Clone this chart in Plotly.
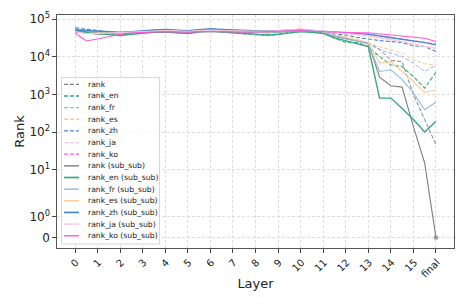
import numpy as np
import plotly.graph_objects as go

# ---------------- data ----------------
x_steps = [i * 0.5 for i in range(33)]          # 0, 0.5, ..., 15.5, 16 (final)
tick_pos = list(range(17))
tick_labels = [str(i) for i in range(16)] + ["final"]

rank = [52000, 50000, 47000, 44000, 42000, 44000, 46000, 47000, 48000, 47000, 46000, 48000, 50000, 49000, 47000, 46000,
        45000, 44000, 46000, 48000, 49000, 47000, 45000, 36000, 31000, 27000, 23000, 16000, 8000, 7500, 1000, 215, 46]
rank_en = [50000, 46000, 42000, 40000, 38000, 41000, 44000, 45000, 46000, 44000, 43000, 47000, 49000, 46000, 44000, 42000,
           40000, 37000, 39000, 44000, 47000, 46000, 43000, 31300, 24000, 24000, 18800, 10200, 6100, 5500, 3000, 1480, 3850]
rank_fr = [62000, 57000, 50000, 45000, 42000, 44000, 47000, 49000, 50000, 48000, 47000, 50000, 52000, 50000, 48000, 47000,
           46000, 45000, 47000, 49000, 51000, 49000, 46000, 38000, 31000, 27000, 23000, 15300, 12500, 10200, 6800, 4080, 5900]
rank_es = [55000, 52000, 48000, 45000, 43000, 45000, 48000, 50000, 51000, 49000, 48000, 51000, 53000, 51000, 50000, 49000,
           48000, 47000, 49000, 52000, 54000, 50000, 47000, 40000, 34000, 29000, 23000, 18800, 15300, 12500, 8300, 6500, 6100]
rank_zh = [57000, 54000, 50000, 46000, 44000, 46000, 49000, 51000, 52000, 50000, 49000, 52000, 55000, 53000, 51000, 50000,
           49000, 47000, 49000, 51000, 52000, 49000, 46000, 41000, 38300, 33000, 29500, 27000, 25500, 24000, 19600, 18800, 13800]
rank_ja = [48000, 45000, 43000, 44000, 45000, 47000, 48000, 49000, 50000, 49000, 48000, 50000, 51000, 50000, 49000, 48000,
           47000, 48000, 50000, 53000, 55000, 52000, 49000, 45000, 42000, 38000, 35000, 31000, 28000, 26000, 22000, 19000, 16000]
rank_ko = [46000, 42000, 40000, 41000, 43000, 45000, 47000, 48000, 49000, 48000, 47000, 49000, 50000, 49000, 48000, 47000,
           46000, 45000, 47000, 49000, 50000, 49000, 48000, 46000, 44000, 41000, 39000, 36000, 33000, 30000, 27000, 25000, 22000]

rank_ss = [50000, 47000, 45000, 44000, 43000, 45000, 47000, 48000, 49000, 47000, 46000, 48000, 50000, 48000, 47000, 46000,
           45000, 44000, 46000, 48000, 49000, 46000, 44000, 35000, 30000, 26000, 23100, 2900, 1700, 1570, 140, 15, 0]
rank_en_ss = [48000, 44000, 41000, 39000, 37000, 40000, 43000, 45000, 46000, 44000, 42000, 46000, 48000, 46000, 44000, 42000,
              40000, 38000, 40000, 44000, 47000, 45000, 42000, 32000, 27000, 23000, 18800, 800, 800, 420, 214, 100, 192]
rank_fr_ss = [56000, 50000, 46000, 44000, 42000, 44000, 47000, 49000, 50000, 48000, 46000, 49000, 52000, 50000, 48000, 46000,
              45000, 44000, 46000, 49000, 50000, 48000, 45000, 36000, 30000, 26000, 22000, 4080, 4530, 2480, 1100, 390, 620]
rank_es_ss = [53000, 49000, 46000, 45000, 44000, 46000, 49000, 51000, 52000, 50000, 48000, 51000, 53000, 51000, 49000, 48000,
              47000, 46000, 48000, 51000, 53000, 50000, 47000, 40000, 33000, 28000, 24000, 6800, 7500, 4080, 2200, 1130, 1340]
rank_zh_ss = [52000, 50000, 48000, 46000, 45000, 47000, 50000, 52000, 54000, 52000, 50000, 53000, 56000, 54000, 52000, 50000,
              49000, 48000, 50000, 52000, 53000, 50000, 48000, 45000, 44000, 42000, 40000, 36000, 32500, 30000, 27000, 24000, 20800]
rank_ja_ss = [47000, 42000, 42000, 43000, 44000, 46000, 48000, 49000, 50000, 49000, 48000, 50000, 52000, 50000, 49000, 48000,
              47000, 48000, 50000, 54000, 56000, 52000, 49000, 46000, 43000, 40000, 37000, 33000, 29000, 26000, 23000, 20000, 17000]
rank_ko_ss = [43000, 26500, 30000, 34000, 40000, 43000, 45000, 46000, 47000, 46000, 45000, 47000, 48000, 47000, 46000, 45000,
              46000, 47000, 48000, 49000, 49800, 48000, 46900, 45000, 44000, 44000, 44000, 41000, 38300, 36000, 33300, 31300, 25500]

y_tick_values = [0, 1, 10, 100, 1000, 10000, 100000]
y_tick_labels = ["0", "10<sup>0</sup>", "10<sup>1</sup>", "10<sup>2</sup>", "10<sup>3</sup>", "10<sup>4</sup>", "10<sup>5</sup>"]

# ---------------- scale (symlog, linthresh=2, linscale=1) ----------------
LINTHRESH = 2.0
LS = 1.0 / (1.0 - 0.1)


def symlog(v):
    v = np.asarray(v, dtype=float)
    return np.where(v <= LINTHRESH, v / LINTHRESH * LS,
                    LS + np.log10(np.maximum(v, LINTHRESH) / LINTHRESH))


C_GRAY = "#7f7f7f"
C_EN = "#3aa87c"
C_FR = "#8dbbe8"
C_ES = "#fdc896"
C_ZH = "#4a88c8"
C_JA = "#f9c6e2"
C_KO = "#ff55dd"
DASH = "4px,2px"

series = [
    ("rank", rank, C_GRAY, DASH, 1.0),
    ("rank_en", rank_en, C_EN, DASH, 1.1),
    ("rank_fr", rank_fr, C_FR, DASH, 1.0),
    ("rank_es", rank_es, C_ES, DASH, 1.0),
    ("rank_zh", rank_zh, C_ZH, DASH, 1.1),
    ("rank_ja", rank_ja, C_JA, DASH, 1.0),
    ("rank_ko", rank_ko, C_KO, DASH, 1.0),
    ("rank (sub_sub)", rank_ss, C_GRAY, "solid", 1.1),
    ("rank_en (sub_sub)", rank_en_ss, C_EN, "solid", 1.4),
    ("rank_fr (sub_sub)", rank_fr_ss, C_FR, "solid", 1.1),
    ("rank_es (sub_sub)", rank_es_ss, C_ES, "solid", 1.1),
    ("rank_zh (sub_sub)", rank_zh_ss, C_ZH, "solid", 1.4),
    ("rank_ja (sub_sub)", rank_ja_ss, C_JA, "solid", 1.1),
    ("rank_ko (sub_sub)", rank_ko_ss, C_KO, "solid", 1.1),
]

fig = go.Figure()
for name, vals, col, dash, w in series:
    if name == "rank (sub_sub)":
        fig.add_trace(go.Scatter(
            x=x_steps, y=symlog(vals), name=name, mode="lines+markers",
            line=dict(color=col, dash=dash, width=w),
            marker=dict(size=[0.01] * (len(vals) - 1) + [4], color=col, symbol="square",
                        line=dict(width=0)),
            showlegend=False, hoverinfo="skip"))
    else:
        fig.add_trace(go.Scatter(
            x=x_steps, y=symlog(vals), name=name, mode="lines",
            line=dict(color=col, dash=dash, width=w),
            showlegend=False, hoverinfo="skip"))

# ---------------- layout ----------------
W, H = 468, 305
ML, MR, MT, MB = 57, 14, 15, 57
X_RANGE = [-0.8, 16.8]
Y_RANGE = [-0.276, 5.924]

fig.update_layout(
    width=W, height=H, margin=dict(l=ML, r=MR, t=MT, b=MB, autoexpand=False),
    paper_bgcolor="white", plot_bgcolor="white",
    font=dict(family="DejaVu Sans", color="#222"),
)
fig.update_xaxes(
    range=X_RANGE, tickvals=tick_pos, ticktext=tick_labels, tickangle=-45,
    tickfont=dict(size=10), ticks="outside", ticklen=3.5, tickcolor="#444",
    showgrid=True, gridcolor="#dddddd", griddash="3px,2px", gridwidth=0.8,
    showline=True, linecolor="#555", linewidth=1.2, mirror=True, zeroline=False,
    ticklabelshift=1, automargin=False,
    title=dict(text="Layer", font=dict(size=13), standoff=0),
)
fig.update_yaxes(
    range=Y_RANGE, tickvals=list(symlog(y_tick_values)), ticktext=y_tick_labels,
    tickfont=dict(size=12), ticks="outside", ticklen=3.5, tickcolor="#444",
    showgrid=True, gridcolor="#dddddd", griddash="3px,2px", gridwidth=0.8,
    showline=True, linecolor="#555", linewidth=1.2, mirror=True, zeroline=False,
    automargin=False,
    title=dict(text="Rank", font=dict(size=13), standoff=1),
)

# ---------------- legend (drawn manually, matplotlib-like compact) ----------------
# pixel -> axis-coordinate helpers (plot area: x 57..454, y 15..248)
PW, PH = W - ML - MR, H - MT - MB


def ax_x(xp):
    return X_RANGE[0] + (xp - ML) / PW * (X_RANGE[1] - X_RANGE[0])


def ax_y(yp):
    return Y_RANGE[0] + (H - MB - yp) / PH * (Y_RANGE[1] - Y_RANGE[0])


shapes = [dict(type="rect", xref="x", yref="y",
               x0=ax_x(61.5), x1=ax_x(159.5), y0=ax_y(244.0), y1=ax_y(77.5),
               fillcolor="rgba(255,255,255,0.85)", line=dict(color="#cccccc", width=0.8),
               layer="above")]
annotations = []
y0_leg, dy_leg = 84.3, 11.65
for i, (name, vals, col, dash, w) in enumerate(series):
    yy = ax_y(y0_leg + i * dy_leg)
    shapes.append(dict(type="line", xref="x", yref="y",
                       x0=ax_x(64), x1=ax_x(79), y0=yy, y1=yy,
                       line=dict(color=col, dash=dash, width=w + 0.3), layer="above"))
    annotations.append(dict(xref="x", yref="y", x=ax_x(86), y=yy, text=name,
                            showarrow=False, xanchor="left", yanchor="middle",
                            font=dict(size=7.7, color="#222")))
fig.update_layout(shapes=shapes, annotations=annotations)

fig.write_html("out.html", config={"displayModeBar": False},
               post_script="document.body.style.margin='0';")
